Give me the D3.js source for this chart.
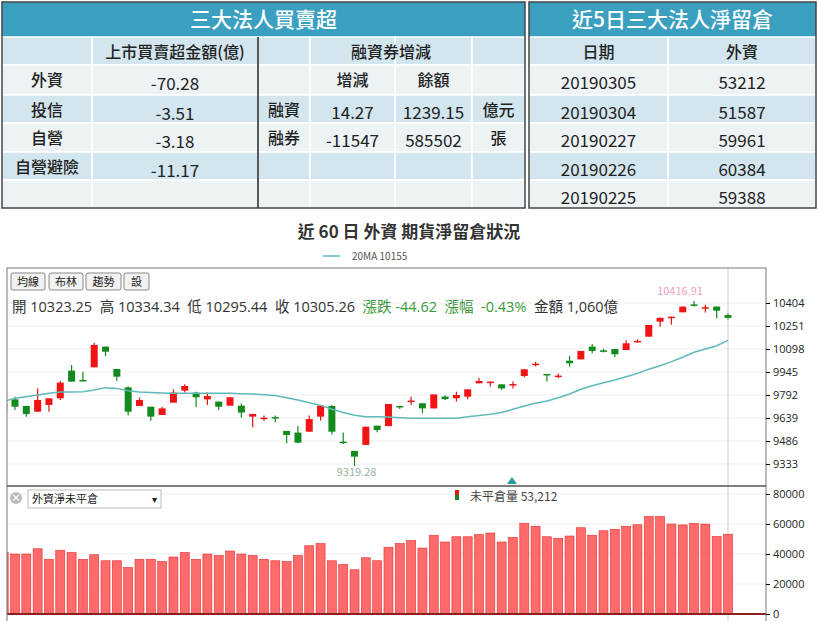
<!DOCTYPE html>
<html><head><meta charset="utf-8">
<script src="https://cdn.jsdelivr.net/npm/d3@7"></script>
<style>
body{margin:0;background:#fff;font-family:"Noto Sans CJK TC","Open Sans",sans-serif;}
</style></head><body>
<svg id="c" width="819" height="621"></svg>
<script>
// ---- table data ----
var instNames = ['外資', '投信', '自營', '自營避險', ''];
var instAmounts = ['-70.28', '-3.51', '-3.18', '-11.17', ''];
var marginRows = [['', '增減', '餘額', ''], ['融資', '14.27', '1239.15', '億元'], ['融券', '-11547', '585502', '張'], ['', '', '', ''], ['', '', '', '']];
var oiDates = ['20190305', '20190304', '20190227', '20190226', '20190225'];
var oiForeign = ['53212', '51587', '59961', '60384', '59388'];

// ---- candle data (index 0 clipped at left edge) ----
var opens = [9692,9763,9719,9681,9726,9770,9954,9892,9976,10114,9965,9843,9719,9714,9659,9741,9821,9808,9763,9748,9721,9721,9648,9637,9645,9553,9542,9548,9648,9719,9482,9420,9460,9588,9585,9719,9752,9737,9703,9781,9770,9781,9870,9877,9863,9861,9918,9998,9932,9918,10020,10029,10114,10089,10098,10091,10150,10180,10280,10311,10342,10395,10374,10380,10323.25];
var closes = [9737,9714,9666,9759,9770,9874,9881,9890,10125,10080,9914,9681,9759,9648,9703,9808,9852,9777,9785,9714,9777,9675,9666,9641,9643,9526,9475,9632,9721,9548,9480,9382,9581,9559,9732,9717,9755,9703,9796,9765,9792,9830,9885,9881,9836,9865,9963,10000,9930,9921,10003,10085,10085,10087,10063,10136,10152,10258,10306,10313,10380,10393,10376,10353,10305.26];
var highs = [9740,9781,9719,9836,9770,9885,9992,9947,10140,10114,9965,9848,9774,9714,9714,9830,9863,9814,9808,9748,9777,9736,9666,9655,9656,9553,9586,9655,9726,9726,9542,9420,9581,9588,9732,9719,9781,9737,9796,9790,9814,9830,9907,9881,9863,9881,9963,10014,9932,9935,10051,10085,10131,10100,10098,10154,10162,10258,10306,10313,10380,10417,10392,10380,10334.34];
var lows = [9680,9692,9648,9681,9681,9759,9881,9885,9976,10051,9887,9655,9719,9621,9659,9741,9808,9710,9726,9692,9721,9641,9577,9620,9610,9471,9471,9548,9621,9530,9466,9319.28,9460,9545,9585,9699,9726,9670,9703,9758,9748,9763,9870,9848,9825,9836,9910,9981,9881,9903,9981,10029,10069,10075,10043,10091,10140,10180,10246,10260,10342,10380,10340,10302,10295.44];
var ma20 = [9750,9770,9781,9792,9803,9812,9812,9814,9825,9841,9836,9821,9812,9808,9805,9803,9803,9803,9803,9803,9803,9801,9799,9794,9788,9774,9759,9741,9723,9697,9675,9657,9648,9648,9646,9641,9637,9637,9637,9637,9637,9648,9655,9664,9675,9697,9719,9737,9752,9774,9799,9830,9854,9874,9892,9914,9936,9963,9987,10014,10043,10076,10098,10120,10155];
var oi = [41000,40000,40000,43500,36500,42500,41000,36500,39500,35500,35500,31000,36500,36500,35000,38000,41000,36500,40000,39000,42000,40000,39000,36500,35500,35000,39000,45500,47000,35500,33000,29500,37500,35500,44500,47000,49000,44000,52500,48000,51500,51500,53000,54000,48000,51000,60500,58500,51500,50500,52000,57500,52500,55500,56500,58500,59500,65000,65000,60000,59388,60384,59961,51587,53212];
var priceTicks = [10404,10251,10098,9945,9792,9639,9486,9333];
var oiTicks = [80000,60000,40000,20000,0];

var svg = d3.select('#c');
var teal = '#3b9fc0', light = '#edf2f5', blue = '#d3e5ee';

// ---- left table ----
var rowY = [2, 37, 65, 95, 123, 152, 180, 208];
var colX = [2, 92, 258, 310, 395, 472, 525];
function cell(x, y, w, h, fill) {
  svg.append('rect').attr('x', x).attr('y', y).attr('width', w).attr('height', h).attr('fill', fill).attr('stroke', '#fff').attr('stroke-width', 1.5);
}
function txt(x, y, s, opt) {
  opt = opt || {};
  return svg.append('text').attr('x', x).attr('y', y).attr('text-anchor', opt.anchor || 'middle')
    .attr('font-size', opt.size || 15).attr('font-weight', opt.bold ? (opt.w || 'bold') : 'normal')
    .attr('fill', opt.fill || '#222').text(s);
}
svg.append('rect').attr('x', colX[0]).attr('y', rowY[0]).attr('width', colX[6] - colX[0]).attr('height', rowY[1] - rowY[0]).attr('fill', teal);
txt((colX[0] + colX[6]) / 2, 27, '三大法人買賣超', {size: 21, bold: true, w: 500, fill: '#fff'});
for (var r = 1; r < 7; r++) {
  var fill = (r % 2 === 1) ? blue : light;
  for (var c = 0; c < 6; c++) cell(colX[c], rowY[r], colX[c + 1] - colX[c], rowY[r + 1] - rowY[r], fill);
}
txt((colX[1] + colX[2]) / 2, 58, '上市買賣超金額(億)', {bold: true, w: 500, size: 16});
txt((colX[3] + colX[5]) / 2, 58, '融資券增減', {bold: true, w: 500, size: 16});
instNames.forEach(function(n, i) {
  var y = rowY[i + 2] + 21;
  txt((colX[0] + colX[1]) / 2, y, n, {bold: true, w: 500, size: 16});
  txt((colX[1] + colX[2]) / 2, y + 4, instAmounts[i], {size: 17});
  marginRows[i].forEach(function(s, j) {
    var isNum = (j === 1 || j === 2) && i > 0;
    txt((colX[j + 2] + colX[j + 3]) / 2, y + (isNum ? 3 : 0), s, {bold: !isNum, w: 500, size: isNum ? 17 : 16});
  });
});
svg.append('line').attr('x1', colX[2]).attr('x2', colX[2]).attr('y1', rowY[1]).attr('y2', rowY[7]).attr('stroke', '#222').attr('stroke-width', 1.5);
svg.append('rect').attr('x', colX[0]).attr('y', rowY[0]).attr('width', colX[6] - colX[0]).attr('height', rowY[7] - rowY[0]).attr('fill', 'none').attr('stroke', '#444').attr('stroke-width', 1.5);

// ---- right table ----
var rx = [529, 668, 816];
svg.append('rect').attr('x', rx[0]).attr('y', rowY[0]).attr('width', rx[2] - rx[0]).attr('height', rowY[1] - rowY[0]).attr('fill', teal);
txt((rx[0] + rx[2]) / 2, 27, '近5日三大法人淨留倉', {size: 21, bold: true, w: 500, fill: '#fff'});
for (r = 1; r < 7; r++) {
  for (c = 0; c < 2; c++) cell(rx[c], rowY[r], rx[c + 1] - rx[c], rowY[r + 1] - rowY[r], (r % 2 === 1) ? blue : light);
}
txt((rx[0] + rx[1]) / 2, 58, '日期', {bold: true, w: 500, size: 16});
txt((rx[1] + rx[2]) / 2, 58, '外資', {bold: true, w: 500, size: 16});
oiDates.forEach(function(d, i) {
  txt((rx[0] + rx[1]) / 2, rowY[i + 2] + 24, d, {size: 17});
  txt((rx[1] + rx[2]) / 2, rowY[i + 2] + 24, oiForeign[i], {size: 17});
});
svg.append('rect').attr('x', rx[0]).attr('y', rowY[0]).attr('width', rx[2] - rx[0]).attr('height', rowY[7] - rowY[0]).attr('fill', 'none').attr('stroke', '#444').attr('stroke-width', 1.5);

// ---- title & legend ----
txt(409, 238, '近 60 日 外資 期貨淨留倉狀況', {size: 17, bold: true, fill: '#333'});
svg.append('line').attr('x1', 323).attr('x2', 340).attr('y1', 256).attr('y2', 256).attr('stroke', '#5bb8b8').attr('stroke-width', 1.5);
txt(352, 260, '20MA 10155', {size: 10, anchor: 'start', fill: '#555'});

// ---- chart frame ----
var L = 7, R = 766, T = 268, MID = 486, B = 621;
var x = d3.scaleLinear().domain([1, 64]).range([15, 728]);
var y = d3.scaleLinear().domain([9333, 10404]).range([464, 303]);
var yb = d3.scaleLinear().domain([0, 80000]).range([614, 494]);

svg.append('clipPath').attr('id', 'clp').append('rect').attr('x', L).attr('y', T).attr('width', R - L).attr('height', B - T);
var g = svg.append('g').attr('clip-path', 'url(#clp)');

priceTicks.forEach(function(t) {
  g.append('line').attr('x1', L).attr('x2', R).attr('y1', y(t)).attr('y2', y(t)).attr('stroke', '#eee');
});
oiTicks.slice(0, 4).forEach(function(t) {
  g.append('line').attr('x1', L).attr('x2', R).attr('y1', yb(t)).attr('y2', yb(t)).attr('stroke', '#eee');
});
g.append('line').attr('x1', 728).attr('x2', 728).attr('y1', T).attr('y2', B).attr('stroke', '#ccc');

// candles
var idx = d3.range(opens.length);
var up = function(i) { return closes[i] >= opens[i]; };
var cw = 7;
g.selectAll('.wick').data(idx).join('line')
  .attr('x1', function(i) { return x(i); }).attr('x2', function(i) { return x(i); })
  .attr('y1', function(i) { return y(highs[i]); }).attr('y2', function(i) { return y(lows[i]); })
  .attr('stroke', function(i) { return up(i) ? '#e41414' : '#138a1e'; }).attr('stroke-width', 1.2);
g.selectAll('.body').data(idx).join('rect')
  .attr('x', function(i) { return x(i) - cw / 2; }).attr('width', cw)
  .attr('y', function(i) { return y(Math.max(opens[i], closes[i])); })
  .attr('height', function(i) { return Math.max(1.5, Math.abs(y(opens[i]) - y(closes[i]))); })
  .attr('fill', function(i) { return up(i) ? '#f01414' : '#138a1e'; });

g.append('path').datum(idx).attr('fill', 'none').attr('stroke', '#5fb9bb').attr('stroke-width', 1.5)
  .attr('d', d3.line().x(function(i) { return x(i); }).y(function(i) { return y(ma20[i]); }));

txt(x(31) + 2, 476, '9319.28', {size: 11, fill: '#9ab0a0'});
txt(x(61) - 14, 295, '10416.91', {size: 11, fill: '#f0a0c0'});
g.append('path').attr('d', 'M507,484 L512,477 L517,484 Z').attr('fill', '#2a9a9a');

// bars
g.selectAll('.bar').data(idx).join('rect')
  .attr('x', function(i) { return x(i) - 4.5; }).attr('width', 9)
  .attr('y', function(i) { return yb(oi[i]); })
  .attr('height', function(i) { return yb(0) - yb(oi[i]); })
  .attr('fill', '#ff6a6a').attr('stroke', '#e03030').attr('stroke-width', 0.6);
g.append('line').attr('x1', L).attr('x2', R).attr('y1', yb(0)).attr('y2', yb(0)).attr('stroke', '#8b2020').attr('stroke-width', 2);

// frame lines
svg.append('rect').attr('x', L).attr('y', T).attr('width', R - L).attr('height', B - T + 5).attr('fill', 'none').attr('stroke', '#777');
svg.append('line').attr('x1', L).attr('x2', R).attr('y1', MID).attr('y2', MID).attr('stroke', '#555').attr('stroke-width', 1.5);

// axes
svg.append('g').attr('transform', 'translate(' + R + ',0)')
  .call(d3.axisRight(y).tickValues(priceTicks).tickSize(4).tickFormat(d3.format('d')))
  .call(function(a) { a.select('.domain').remove(); a.selectAll('text').attr('font-size', 11).attr('fill', '#222').attr('font-family', 'Open Sans'); });
svg.append('g').attr('transform', 'translate(' + R + ',0)')
  .call(d3.axisRight(yb).tickValues(oiTicks).tickSize(4).tickFormat(d3.format('d')))
  .call(function(a) { a.select('.domain').remove(); a.selectAll('text').attr('font-size', 11).attr('fill', '#222').attr('font-family', 'Open Sans'); });

// toolbar buttons
[['均線', 11, 34], ['布林', 49, 34], ['趨勢', 86, 35], ['設', 124, 25]].forEach(function(b) {
  svg.append('rect').attr('x', b[1]).attr('y', 273).attr('width', b[2]).attr('height', 17).attr('rx', 2)
    .attr('fill', '#f2f2f2').attr('stroke', '#888');
  txt(b[1] + b[2] / 2, 286, b[0], {size: 11});
});
var info = svg.append('text').attr('x', 12).attr('y', 312).attr('font-size', 14.5).attr('font-family', 'Open Sans, Noto Sans CJK TC').attr('xml:space', 'preserve');
[['開 10323.25  高 10334.34  低 10295.44  收 10305.26  ', '#333'], ['漲跌 -44.62  漲幅  -0.43%  ', '#3a9a3a'], ['金額 1,060億', '#333']].forEach(function(p) {
  info.append('tspan').attr('fill', p[1]).text(p[0]);
});

// bottom panel controls
svg.append('circle').attr('cx', 16).attr('cy', 498).attr('r', 6).attr('fill', '#bbb');
txt(16, 502, '×', {size: 10, fill: '#fff', bold: true});
svg.append('rect').attr('x', 28).attr('y', 490).attr('width', 133).attr('height', 18).attr('fill', '#fff').attr('stroke', '#bbb');
txt(32, 503, '外資淨未平倉', {size: 11, anchor: 'start'});
txt(154, 503, '▾', {size: 10});
svg.append('rect').attr('x', 455).attr('y', 490).attr('width', 4).attr('height', 5).attr('fill', '#e41414');
svg.append('rect').attr('x', 455).attr('y', 495).attr('width', 4).attr('height', 5).attr('fill', '#138a1e');
txt(470, 501, '未平倉量 53,212', {size: 12, anchor: 'start', fill: '#444'});
</script></body></html>
